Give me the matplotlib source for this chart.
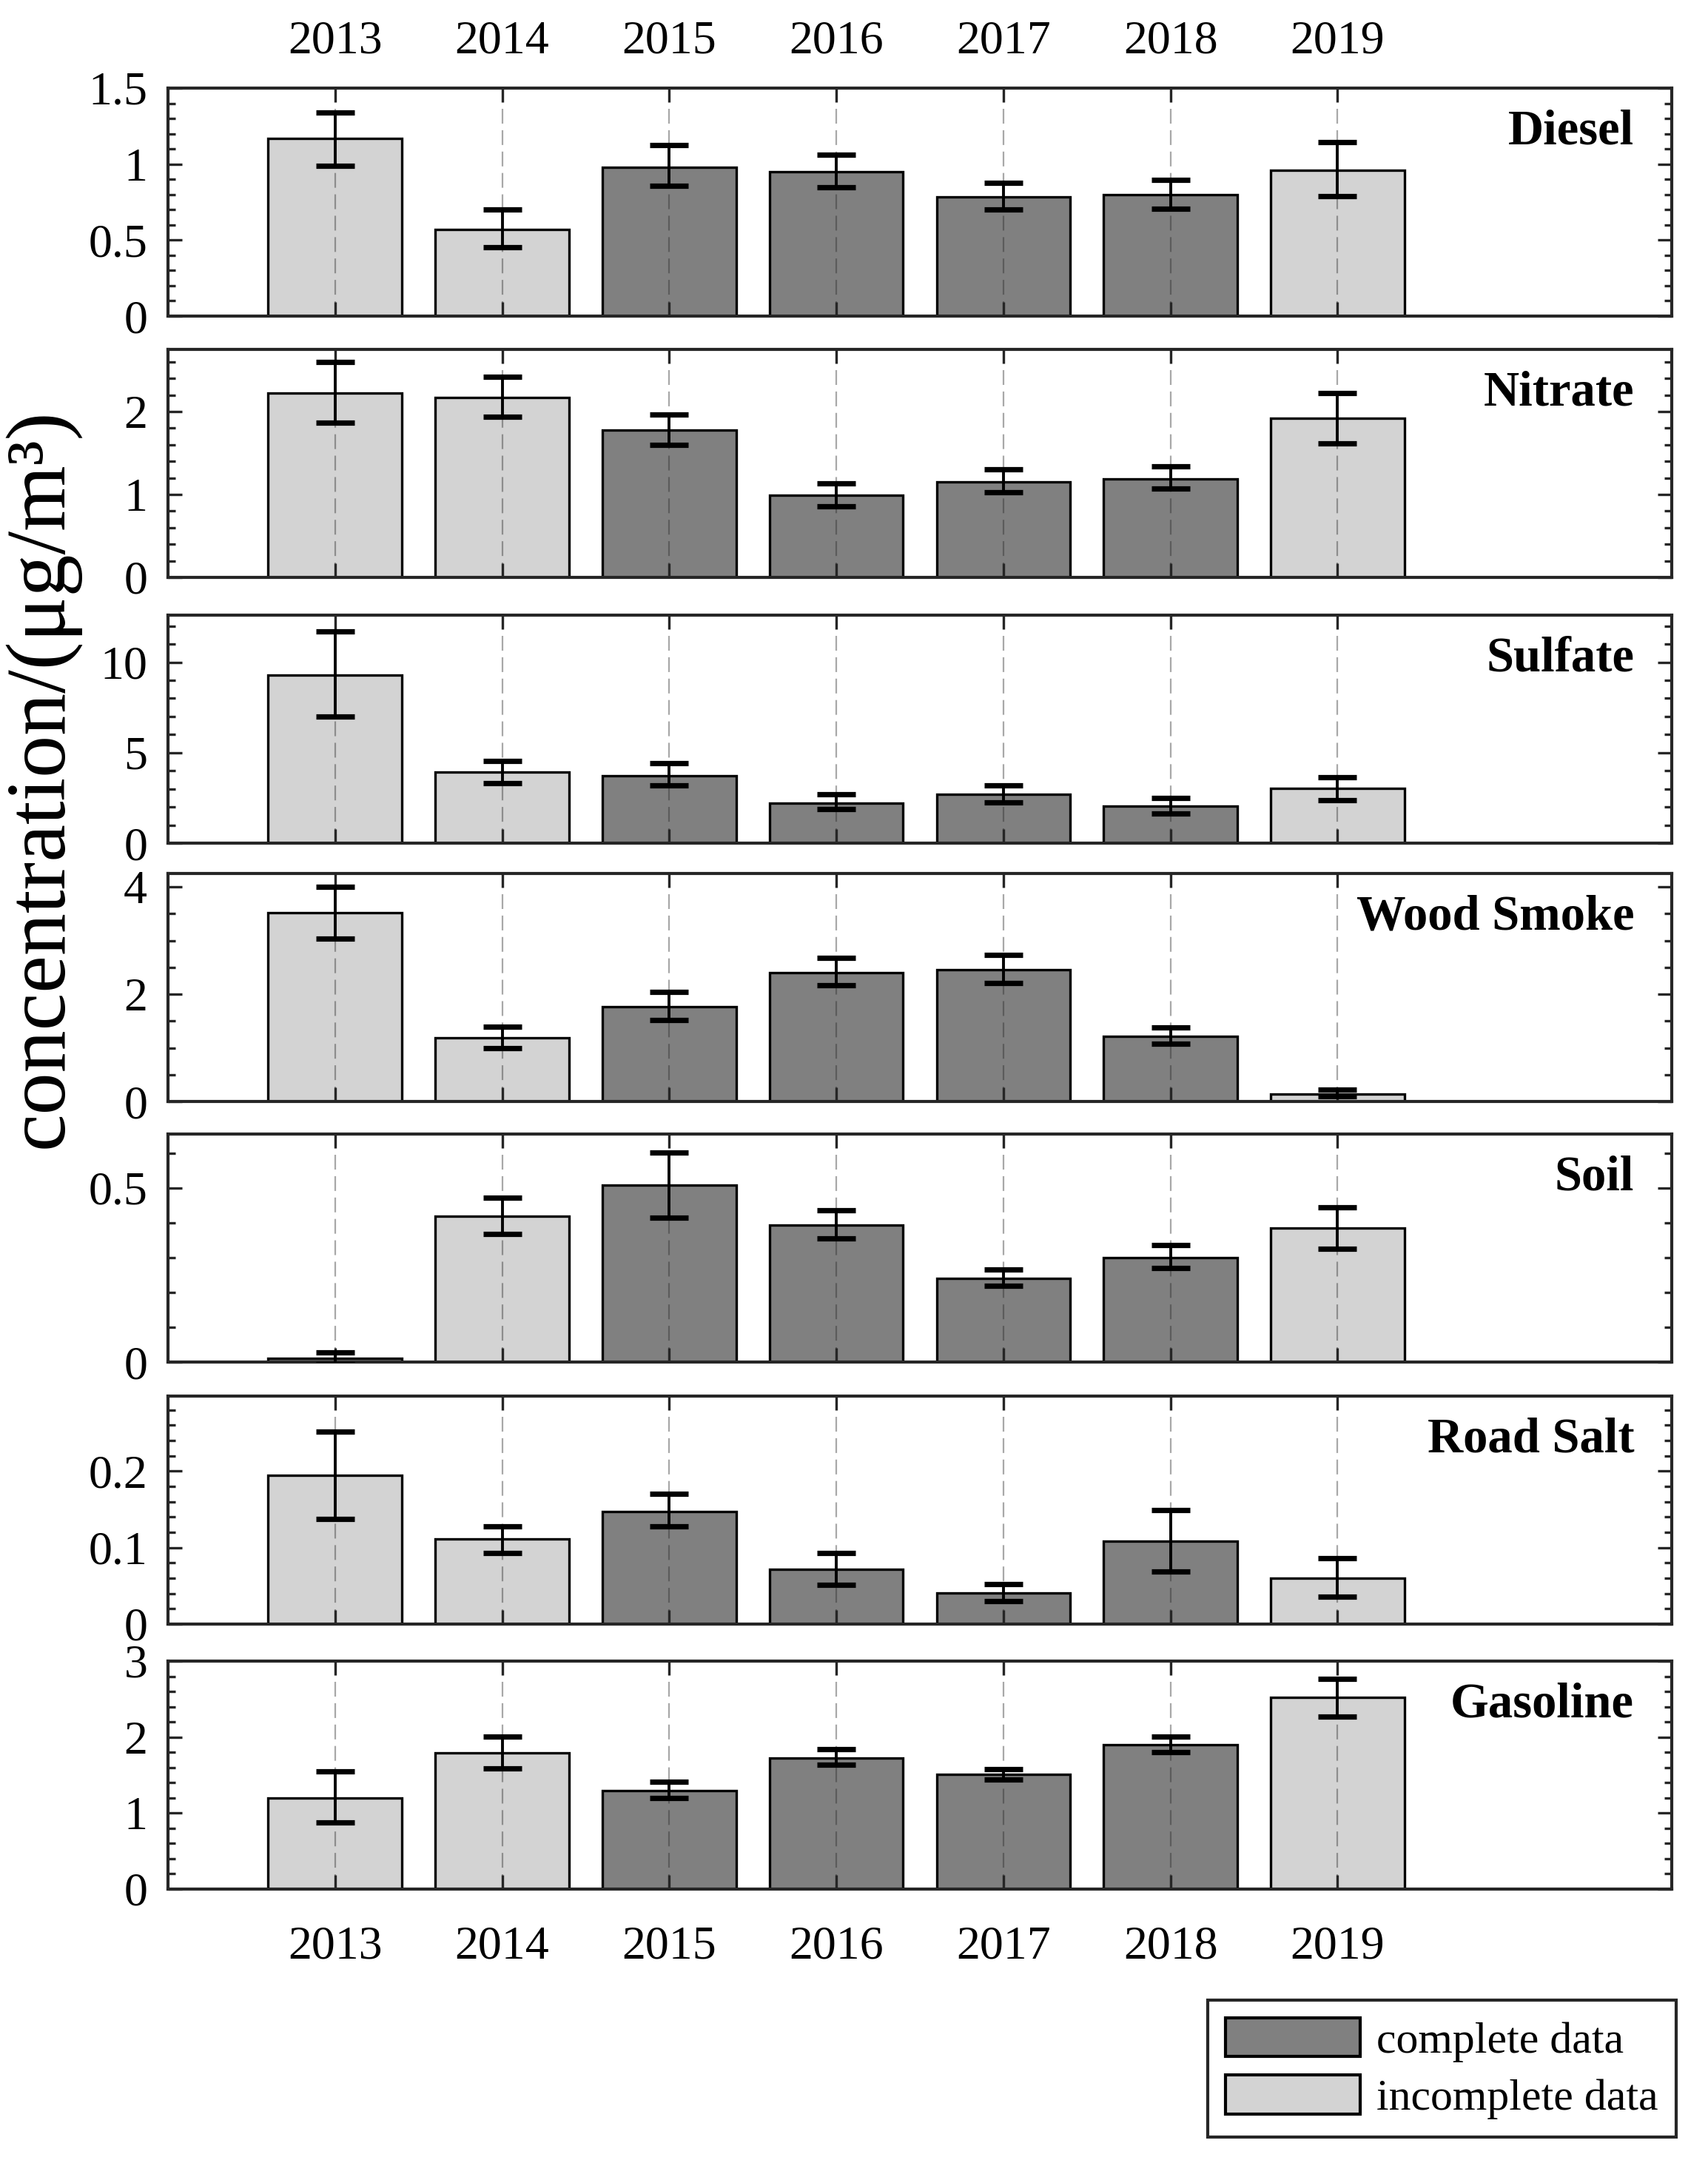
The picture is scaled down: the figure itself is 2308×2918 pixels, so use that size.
import matplotlib.pyplot as plt
import matplotlib.ticker as mticker
from matplotlib.patches import Patch

plt.rcParams['font.family'] = ['Liberation Serif', 'DejaVu Serif']

years = [2013, 2014, 2015, 2016, 2017, 2018, 2019]
sources = ['Diesel', 'Nitrate', 'Sulfate', 'Wood Smoke', 'Soil', 'Road Salt', 'Gasoline']

# bar heights and error-bar ends (lower, upper), ug/m3
diesel = [1.17, 0.57, 0.98, 0.95, 0.785, 0.80, 0.96]
diesel_lo = [0.99, 0.455, 0.855, 0.845, 0.70, 0.705, 0.79]
diesel_hi = [1.34, 0.70, 1.125, 1.06, 0.875, 0.895, 1.145]

nitrate = [2.22, 2.17, 1.78, 0.99, 1.15, 1.19, 1.92]
nitrate_lo = [1.87, 1.94, 1.60, 0.86, 1.03, 1.07, 1.62]
nitrate_hi = [2.60, 2.42, 1.96, 1.13, 1.30, 1.34, 2.22]

sulfate = [9.29, 3.92, 3.74, 2.20, 2.69, 2.05, 3.01]
sulfate_lo = [7.0, 3.32, 3.18, 1.87, 2.27, 1.62, 2.38]
sulfate_hi = [11.69, 4.56, 4.41, 2.70, 3.18, 2.50, 3.65]

wood_smoke = [3.52, 1.18, 1.77, 2.40, 2.46, 1.21, 0.14]
wood_smoke_lo = [3.04, 0.99, 1.52, 2.17, 2.21, 1.08, 0.09]
wood_smoke_hi = [4.0, 1.40, 2.04, 2.68, 2.73, 1.38, 0.22]

soil = [0.011, 0.42, 0.508, 0.394, 0.241, 0.300, 0.384]
soil_lo = [-0.006, 0.368, 0.415, 0.355, 0.219, 0.270, 0.326]
soil_hi = [0.028, 0.473, 0.602, 0.437, 0.266, 0.335, 0.444]

road_salt = [0.194, 0.111, 0.1475, 0.0716, 0.0403, 0.108, 0.060]
road_salt_lo = [0.1375, 0.093, 0.1275, 0.0508, 0.030, 0.069, 0.036]
road_salt_hi = [0.252, 0.128, 0.1705, 0.0924, 0.0525, 0.149, 0.086]

gasoline = [1.20, 1.79, 1.30, 1.72, 1.51, 1.90, 2.52]
gasoline_lo = [0.88, 1.59, 1.20, 1.64, 1.44, 1.80, 2.27]
gasoline_hi = [1.55, 2.01, 1.41, 1.84, 1.58, 2.01, 2.77]

# 1 = complete data year, 0 = incomplete
complete = [0, 0, 1, 1, 1, 1, 0]
complete_soil = [1, 0, 1, 1, 1, 1, 0]

means = [diesel, nitrate, sulfate, wood_smoke, soil, road_salt, gasoline]
lows = [diesel_lo, nitrate_lo, sulfate_lo, wood_smoke_lo, soil_lo, road_salt_lo, gasoline_lo]
highs = [diesel_hi, nitrate_hi, sulfate_hi, wood_smoke_hi, soil_hi, road_salt_hi, gasoline_hi]
flags = [complete, complete, complete, complete, complete_soil, complete, complete]

ylims = [1.5, 2.75, 12.6, 4.25, 0.655, 0.298, 3.0]
major = [0.5, 1, 5, 2, 0.5, 0.1, 1]
minor = [0.1, 0.2, 1, 0.5, 0.1, 0.02, 0.2]

DARK = '#808080'
LIGHT = '#d3d3d3'
AX_COL = '#262626'

W, H = 2308, 2918
fig = plt.figure(figsize=(W / 200, H / 200), dpi=200)
tops = [119, 472, 831, 1180, 1532, 1886, 2244]
ph = 308
x = list(range(1, len(years) + 1))

for i, name in enumerate(sources):
    ax = fig.add_axes([227 / W, 1 - (tops[i] + ph) / H, 2032 / W, ph / H])
    m = means[i]
    colors = [DARK if f else LIGHT for f in flags[i]]
    ax.bar(x, m, width=0.8, color=colors, edgecolor='black', linewidth=1.2, zorder=2)
    yerr = [[a - b for a, b in zip(m, lows[i])], [c - a for a, c in zip(m, highs[i])]]
    ax.errorbar(x, m, yerr=yerr, fmt='none', ecolor='black', elinewidth=1.4,
                capsize=9.5, capthick=2.6, zorder=4)

    ax.set_xlim(0, 9)
    ax.set_ylim(0, ylims[i])
    ax.set_xticks(x)
    ax.set_xticklabels([str(y) for y in years])
    ax.yaxis.set_major_locator(mticker.MultipleLocator(major[i]))
    ax.yaxis.set_minor_locator(mticker.MultipleLocator(minor[i]))
    ax.yaxis.set_major_formatter(mticker.FuncFormatter(lambda v, p: '%g' % round(v, 4)))

    ax.set_axisbelow(False)
    ax.grid(axis='x', color=AX_COL, alpha=0.4, linestyle=(0, (9, 4)), linewidth=0.8)

    ax.tick_params(which='both', direction='in', top=True, right=True,
                   color=AX_COL, labelsize=23, width=1.2)
    ax.tick_params(axis='y', which='major', length=7, pad=10)
    ax.tick_params(axis='y', which='minor', length=3.5)
    ax.tick_params(axis='x', which='major', length=7,
                   labelbottom=(i == len(sources) - 1), labeltop=(i == 0))
    for t in ax.xaxis.get_major_ticks():
        t.set_pad(18 if i == len(sources) - 1 else 12)
    for s in ax.spines.values():
        s.set_color(AX_COL)
        s.set_linewidth(1.5)

    ax.text(0.975, 0.81, name, transform=ax.transAxes, ha='right', va='center',
            fontsize=24, fontweight='bold')

fig.text(0.024, 1 - 1051 / H, 'concentration/(\u03bcg/m\u00b3)', rotation=90,
         ha='center', va='center', fontsize=41)

handles = [Patch(facecolor=DARK, edgecolor='black', linewidth=1.5),
           Patch(facecolor=LIGHT, edgecolor='black', linewidth=1.5)]
leg = fig.legend(handles, ['complete data', 'incomplete data'], loc='upper right',
                 bbox_to_anchor=(2265 / W, 1 - 2702 / H), borderaxespad=0,
                 fontsize=21.5, handlelength=3.05, handleheight=0.97,
                 handletextpad=0.37, labelspacing=0.3, borderpad=0.4,
                 fancybox=False, framealpha=1)
leg.get_frame().set_edgecolor(AX_COL)
leg.get_frame().set_linewidth(1.5)

fig.patch.set_facecolor('white')
fig.savefig('out.png', dpi=200)
